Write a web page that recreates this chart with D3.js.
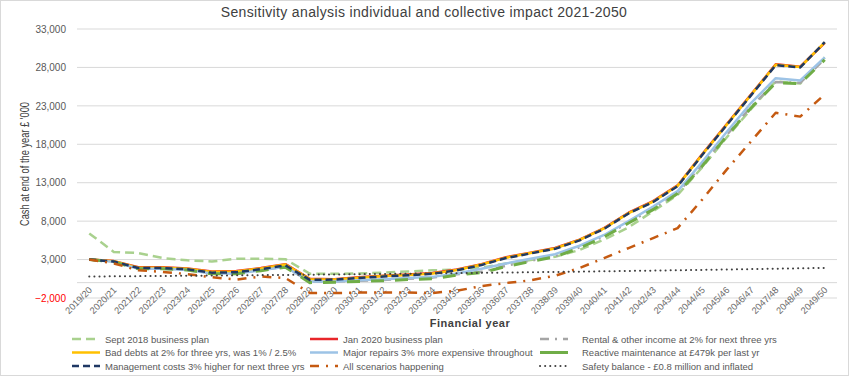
<!DOCTYPE html>
<html><head><meta charset="utf-8">
<script src="https://cdn.jsdelivr.net/npm/d3@7/dist/d3.min.js"></script>
<style>body{margin:0;background:#fff;}svg{display:block;font-family:"Liberation Sans",Arial,sans-serif;}</style>
</head><body><svg id="c" width="850" height="377"></svg>
<script>
const years = ["2019/20","2020/21","2021/22","2022/23","2023/24","2024/25","2025/26","2026/27","2027/28","2028/29","2029/30","2030/31","2031/32","2032/33","2033/34","2034/35","2035/36","2036/37","2037/38","2038/39","2039/40","2040/41","2041/42","2042/43","2043/44","2044/45","2045/46","2046/47","2047/48","2048/49","2049/50"];
const yTicks = [-2000,3000,8000,13000,18000,23000,28000,33000];

const sept2018   = [6400,4000,3850,3200,2900,2750,3100,3100,3050,1150,1150,1200,1300,1450,1600,1700,1950,2500,2950,3350,4250,5600,7200,9300,11400,15000,18900,22600,26200,25900,29300];
const jan2020    = [3000,2800,2000,2000,1850,1450,1500,1900,2400,500,450,700,900,1050,1250,1700,2400,3300,3900,4500,5600,7100,9100,10600,12650,16700,20600,24500,28400,28100,31200];
const rental     = [3000,2700,1850,1850,1700,1200,1250,1650,2100,100,150,250,350,500,650,1100,1400,2200,2850,3450,4600,6050,7850,9600,11700,15300,19200,22900,26100,26000,29100];
const badDebts   = [3000,2780,1950,1950,1800,1400,1450,1850,2350,450,420,650,850,1000,1200,1650,2350,3250,3850,4450,5550,7050,9050,10550,12600,16650,20550,24450,28350,28050,31250];
const majorRep   = [3000,2700,1800,1800,1650,1200,1200,1600,2050,150,150,300,450,600,750,1200,1800,2500,3100,3700,4800,6200,8000,9900,11900,15700,19600,23400,26600,26300,29300];
const reactive   = [3000,2700,1800,1800,1650,1150,1150,1550,2000,0,50,150,250,400,500,1000,1300,2100,2750,3350,4500,5950,7750,9500,11600,15150,19050,22750,26000,25900,29000];
const mgmt       = [3000,2750,1900,1900,1750,1300,1350,1750,2250,350,400,600,800,950,1150,1600,2300,3200,3800,4400,5500,7000,9000,10500,12550,16600,20500,24400,28300,28000,31300];
const allScen    = [3000,2500,1600,1400,1100,700,400,800,600,-1350,-1350,-1300,-1300,-1300,-1350,-1050,-450,-50,300,900,1900,3200,4500,5800,7100,10800,14700,18400,22100,21600,24500];
const safety     = [800,820,845,870,895,920,950,975,1005,1035,1065,1100,1130,1165,1200,1235,1270,1310,1350,1390,1430,1475,1520,1565,1610,1660,1710,1760,1810,1865,1920];

const seriesNames = ["Sept 2018 business plan","Jan 2020 business plan","Rental & other income at 2% for next three yrs","Bad debts at 2% for three yrs, was 1% / 2.5%","Major repairs 3% more expensive throughout","Reactive maintenance at £479k per last yr","Management costs 3% higher for next three yrs","All scenarios happening","Safety balance - £0.8 million and inflated"];
const seriesData = [sept2018,jan2020,rental,badDebts,majorRep,reactive,mgmt,allScen,safety];

const styles = [
  {c:"#a9d18e", w:2.5, d:"9,5", ld:"9,5"},
  {c:"#e8262a", w:2.5, d:null, ld:null},
  {c:"#a5a5a5", w:2.5, d:"9,6,2,6", ld:"9,6,2,6"},
  {c:"#ffc000", w:2.5, d:null, ld:null},
  {c:"#9dc3e6", w:2.5, d:null, ld:null},
  {c:"#70ad47", w:3, d:"13,11", ld:null},
  {c:"#1f3864", w:2.5, d:"7,4", ld:"7,4"},
  {c:"#c55a11", w:2.5, d:"9,7,2,7", ld:"9,7,2,7"},
  {c:"#404040", w:2, d:"0.1,5", ld:"0.1,5", cap:"round"}
];

const svg = d3.select("#c");
svg.append("rect").attr("x",0.5).attr("y",0.5).attr("width",848).attr("height",375).attr("fill","#fff").attr("stroke","#d9d9d9");

const x = d3.scalePoint().domain(years).range([77,837]).padding(0.5);
const y = d3.scaleLinear().domain([-2000,33000]).range([298,29]);

// gridlines
svg.append("g").selectAll("line").data(yTicks).join("line")
  .attr("x1",77).attr("x2",837).attr("y1",d=>y(d)).attr("y2",d=>y(d))
  .attr("stroke","#d9d9d9").attr("stroke-width",1);
// zero axis
svg.append("line").attr("x1",77).attr("x2",837).attr("y1",y(0)).attr("y2",y(0)).attr("stroke","#d9d9d9").attr("stroke-width",1);

// y axis labels
const yAxis = d3.axisLeft(y).tickValues(yTicks).tickSize(0).tickPadding(0).tickFormat(d3.format(","));
const gy = svg.append("g").attr("transform","translate(66,0)").call(yAxis);
gy.select(".domain").remove();
gy.selectAll("text").attr("font-size",10).attr("fill",d=>d<0?"#ff0000":"#595959").attr("font-family","Liberation Sans, Arial");

// x axis labels
const xAxis = d3.axisBottom(x).tickSize(0).tickPadding(0);
const gx = svg.append("g").attr("transform",`translate(0,${y(0)})`).call(xAxis);
gx.select(".domain").remove();
gx.selectAll("text").attr("font-size",9.3).attr("fill","#6b6b6b")
  .attr("text-anchor","end").attr("dy",0)
  .attr("transform","translate(3,8) rotate(-45)");

// lines
const line = d3.line().x((d,i)=>x(years[i])).y(d=>y(d));
seriesData.forEach((s,k)=>{
  const st = styles[k];
  svg.append("path").datum(s).attr("d",line).attr("fill","none")
    .attr("stroke",st.c).attr("stroke-width",st.w)
    .attr("stroke-dasharray",st.d)
    .attr("stroke-linecap",st.cap||"butt").attr("stroke-linejoin","round");
});

// title
svg.append("text").attr("x",424).attr("y",17).attr("text-anchor","middle")
  .attr("font-size",14).attr("fill","#404040").attr("letter-spacing",0.35)
  .text("Sensitivity analysis individual and collective impact 2021-2050");
// y title
svg.append("text").attr("transform","translate(29,164) rotate(-90)").attr("text-anchor","middle")
  .attr("font-size",13).attr("fill","#404040")
  .attr("textLength",124).attr("lengthAdjust","spacingAndGlyphs")
  .text("Cash at end of the year  £ '000");
// x title
svg.append("text").attr("x",470).attr("y",327).attr("text-anchor","middle")
  .attr("font-size",11).attr("font-weight","bold").attr("fill","#404040").attr("letter-spacing",0.5)
  .text("Financial year");

// legend
const colX = [72,310,540];
const textX = [105,343,582];
const rowY = [339,352.5,366];
const lg = svg.append("g");
seriesNames.forEach((n,k)=>{
  const col = k%3, row = Math.floor(k/3);
  const st = styles[k];
  const yy = rowY[row];
  lg.append("line").attr("x1",colX[col]).attr("x2",colX[col]+28).attr("y1",yy).attr("y2",yy)
    .attr("stroke",st.c).attr("stroke-width",st.w)
    .attr("stroke-dasharray",st.ld).attr("stroke-linecap",st.cap||"butt");
  lg.append("text").attr("x",textX[col]).attr("y",yy+3.5).attr("font-size",9.5).attr("fill","#595959").text(n);
});
</script></body></html>
